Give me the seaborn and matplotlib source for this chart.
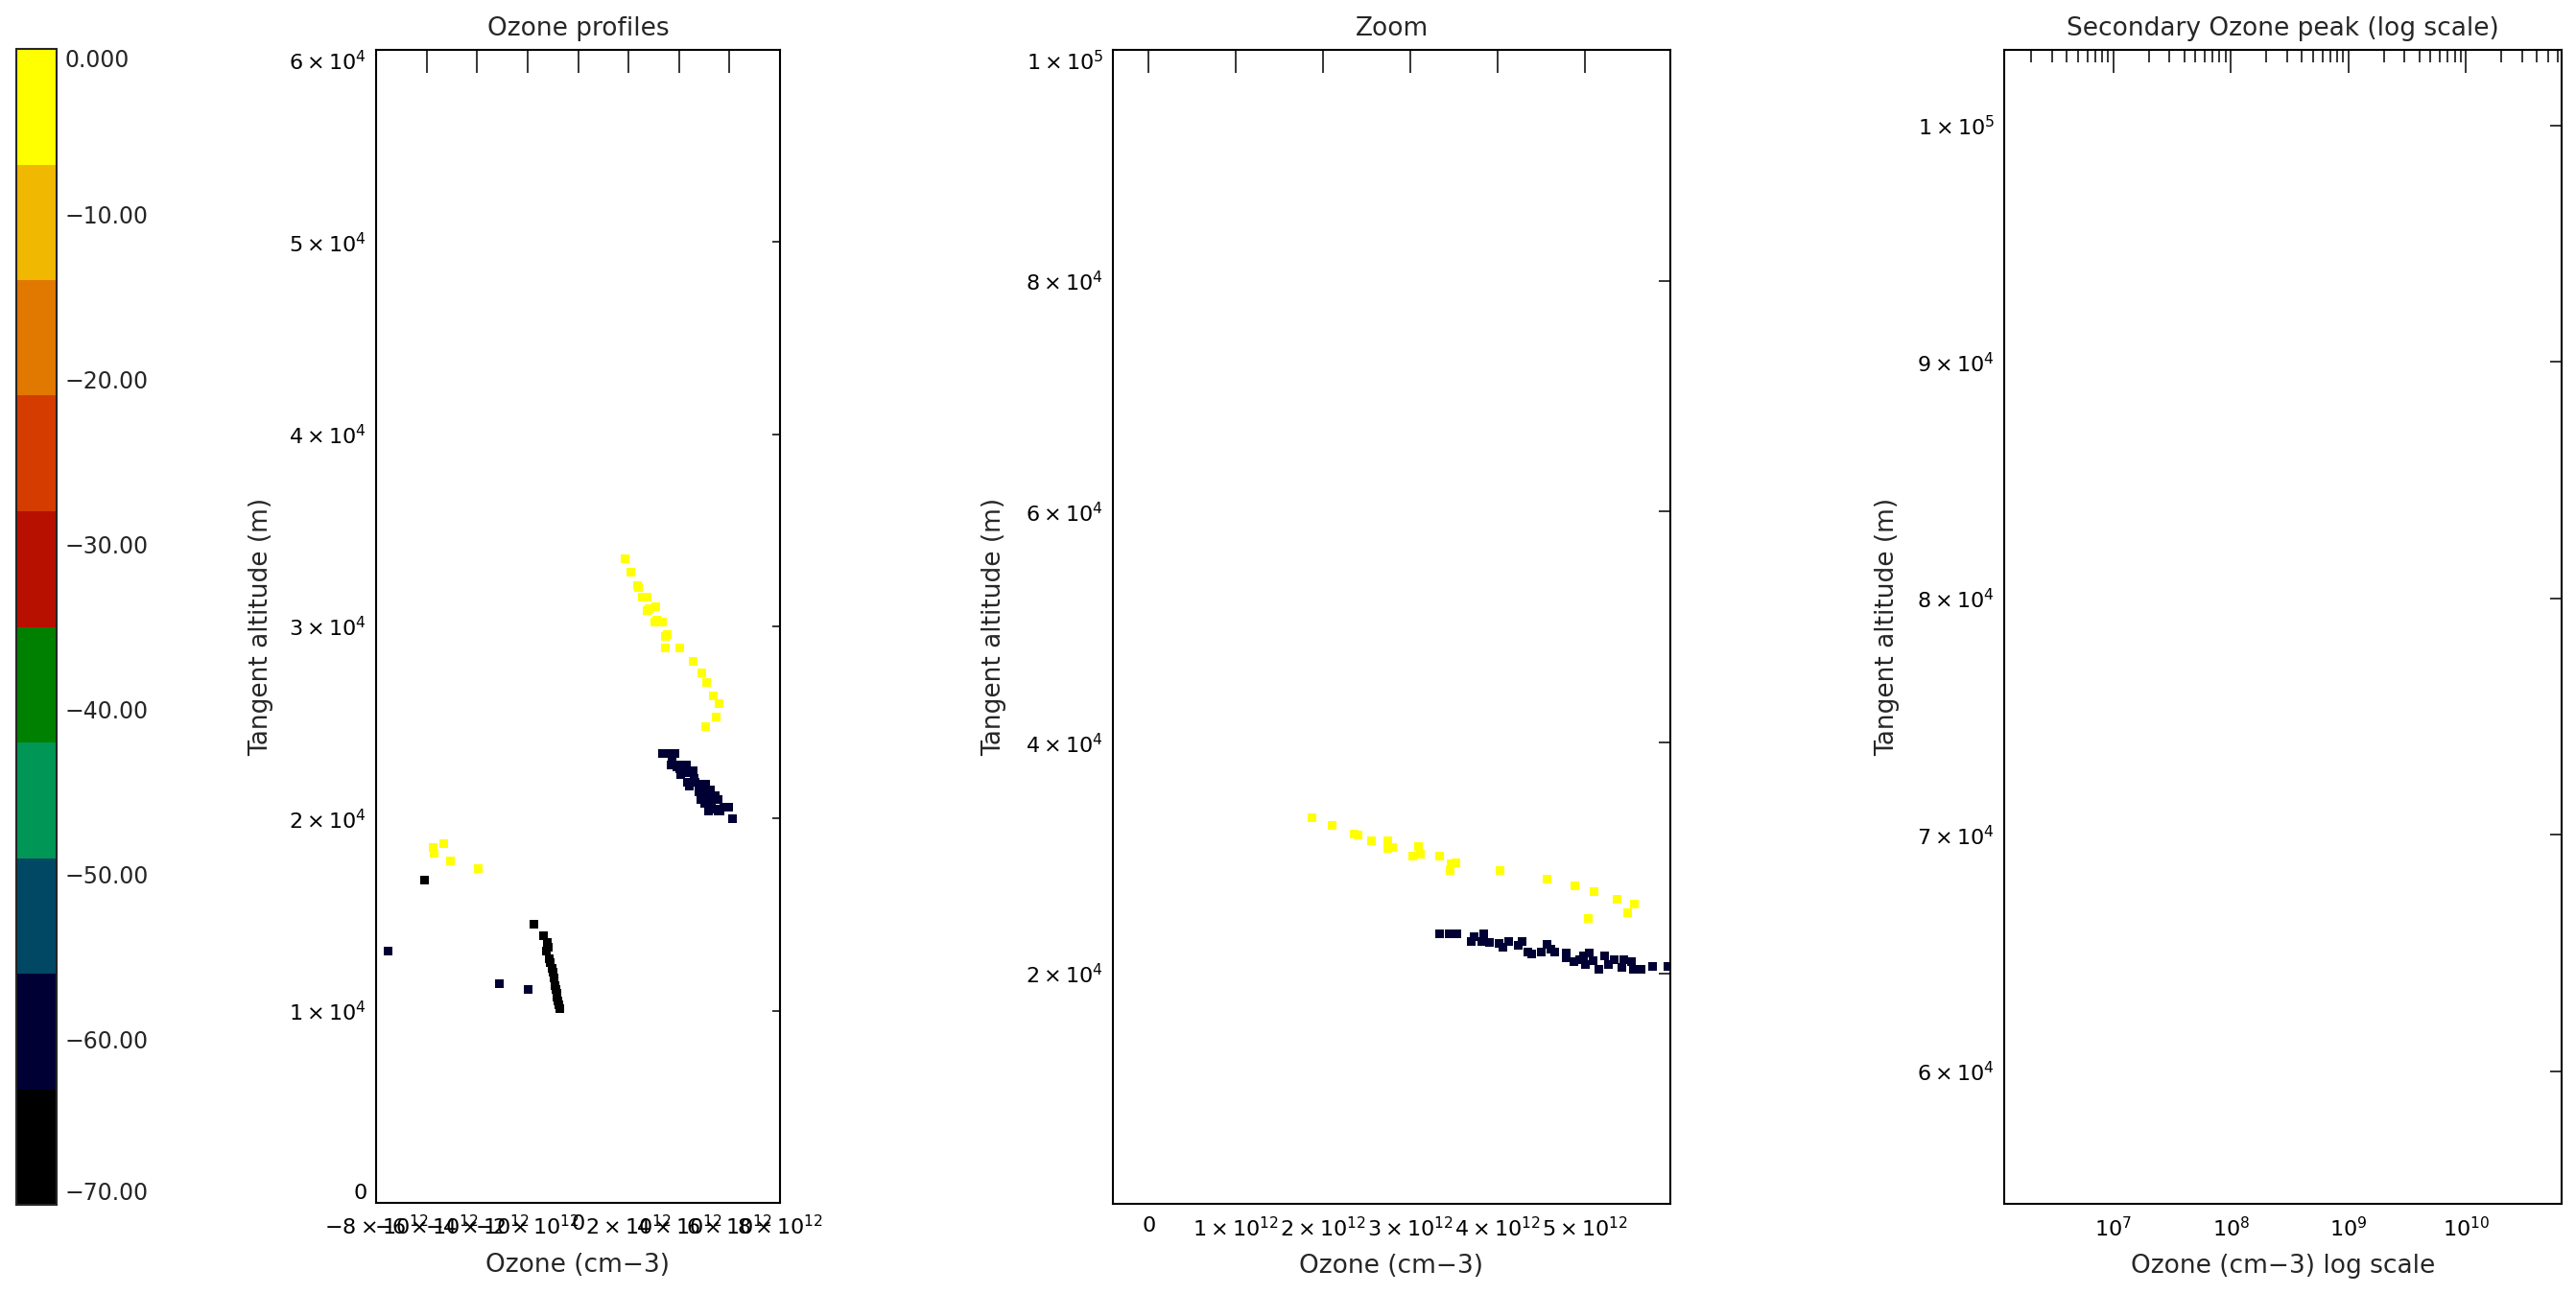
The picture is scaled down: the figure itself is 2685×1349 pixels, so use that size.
"""
Ozone profiles vs tangent altitude, coloured by a discrete scale (0 to -70),
with a zoom panel and an empty log-scale panel for the secondary peak.
"""
import matplotlib
matplotlib.use("Agg")
import matplotlib.pyplot as plt
import matplotlib.ticker as mticker
from matplotlib.colors import ListedColormap, Normalize
from matplotlib.cm import ScalarMappable
import numpy as np
import pandas as pd
import seaborn as sns

# --- colour scale, bottom (-70) to top (0)
cbar_colors = ["#000000", "#000034", "#004864", "#009655", "#008000",
               "#B70F00", "#D43C00", "#E17800", "#F0B800", "#FFFF00"]
cbar_ticks = [-70, -60, -50, -40, -30, -20, -10, 0]
cbar_labels = ["\u221270.00", "\u221260.00", "\u221250.00", "\u221240.00",
               "\u221230.00", "\u221220.00", "\u221210.00", "0.000"]

# --- profiles (ozone in 1e12 cm-3, altitude in m), one colour value each
yel_hi_o3 = [1.87, 2.10, 2.36, 2.40, 2.55, 2.74, 2.74, 2.80, 3.03, 3.09, 3.12, 3.33,
             3.47, 3.52, 3.46, 4.03, 4.57, 4.89, 5.11, 5.04, 5.37, 5.49, 5.57]
yel_hi_alt = [33500, 32800, 32100, 32000, 31500, 31500, 30800, 30900, 30200, 31000,
              30300, 30200, 29500, 29600, 28900, 28900, 28200, 27600, 27100, 24800,
              26400, 25300, 26000]
yel_lo_o3 = [-5.72, -5.69, -5.31, -5.06, -3.96]
yel_lo_alt = [18500, 18200, 18700, 17800, 17400]

navy_hi_o3 = [3.33, 3.44, 3.53, 3.73, 3.84, 3.82, 3.91, 4.02, 4.13, 4.28, 4.35, 4.39,
              4.57, 4.65, 4.79, 4.87, 4.98, 5.05, 5.09, 5.16, 5.23, 5.34, 5.42, 5.53,
              5.64, 5.78, 5.95, 5.45, 4.79, 4.94, 4.61, 5.27, 5.56, 5.01, 3.70, 4.06,
              4.24, 4.50, 6.10]
navy_hi_alt = [23400, 23400, 23400, 23200, 23400, 22800, 22700, 22600, 22800, 22800,
               21900, 21700, 22500, 21900, 21800, 21000, 21500, 21800, 21100, 20400,
               21500, 21200, 20500, 21000, 20400, 20600, 20600, 21200, 21400, 21200,
               22100, 20800, 20400, 20800, 22800, 22300, 22400, 21900, 20000]
navy_lo_o3 = [-7.54, -3.13, -1.99]
navy_lo_alt = [13100, 11400, 11100]

black_o3 = [-6.09, -1.74, -1.38, -1.23, -1.26, -1.17, -1.13, -1.09, -1.04, -0.99,
            -0.94, -0.88, -0.91, -0.85, -0.83, -0.79, -0.73, -0.76]
black_alt = [16800, 14500, 13900, 13550, 13100, 13300, 12700, 12500, 12200, 12000,
             11700, 11100, 11300, 10900, 10700, 10500, 10100, 10300]

yel_val, navy_val, black_val = -3, -60, -67

W, H = 2685, 1349
cmap = ListedColormap(cbar_colors)
norm = Normalize(-70, 0)

df = pd.concat([
    pd.DataFrame({"o3": yel_hi_o3, "alt": yel_hi_alt, "val": yel_val}),
    pd.DataFrame({"o3": yel_lo_o3, "alt": yel_lo_alt, "val": yel_val}),
    pd.DataFrame({"o3": navy_hi_o3, "alt": navy_hi_alt, "val": navy_val}),
    pd.DataFrame({"o3": navy_lo_o3, "alt": navy_lo_alt, "val": navy_val}),
    pd.DataFrame({"o3": black_o3, "alt": black_alt, "val": black_val}),
], ignore_index=True)
df["o3"] = df["o3"] * 1e12
palette = {v: cmap(norm(v)) for v in df["val"].unique()}

sns.set_theme(style="white")
plt.rcParams["font.family"] = ["DejaVu Sans"]
plt.rcParams["mathtext.fontset"] = "dejavusans"
FS_TICK = 16      # tick labels
FS_LAB = 19       # titles / axis labels


def idl_fmt(v, pos):
    if v == 0:
        return "0"
    e = int(np.floor(np.log10(abs(v)) + 1e-9))
    m = v / 10 ** e
    return rf"${m:g}\times10^{{{e}}}$"


def px_axes(fig, left, right, top, bottom):
    return fig.add_axes([left / W, (H - bottom) / H, (right - left) / W, (bottom - top) / H])


def idl_style(ax, ylen):
    for s in ax.spines.values():
        s.set_linewidth(1.5)
        s.set_color("black")
    ax.tick_params(axis="both", which="both", direction="in", top=True, right=True,
                   width=1.1, color="black", labelsize=FS_TICK, labelcolor="black")
    ax.tick_params(axis="x", which="major", length=17, pad=9)
    ax.tick_params(axis="x", which="minor", length=9)
    ax.tick_params(axis="y", which="major", length=ylen, pad=7)
    ax.set_facecolor("white")


def clamp_edge_labels(ax, lo, hi):
    for t, lab in zip(ax.get_yticks(), ax.get_yticklabels()):
        if np.isclose(t, hi):
            lab.set_va("top")
        elif np.isclose(t, lo):
            lab.set_va("bottom")


def labels(ax, title, xlabel, ylab_x):
    ax.set_title(title, fontsize=FS_LAB, pad=11)
    ax.set_xlabel(xlabel, fontsize=FS_LAB, labelpad=10)
    ax.set_ylabel("Tangent altitude (m)", fontsize=FS_LAB)
    ax.yaxis.set_label_coords(ylab_x, 0.5)


fig = plt.figure(figsize=(W / 100, H / 100), dpi=100)

# --- colour bar
cax = px_axes(fig, 17, 59, 51, 1256)
cb = fig.colorbar(ScalarMappable(norm=norm, cmap=cmap), cax=cax)
cb.outline.set_linewidth(1.5)
cb.set_ticks(cbar_ticks, labels=cbar_labels)
cax.yaxis.set_minor_locator(mticker.MultipleLocator(5))
cax.tick_params(which="both", direction="in", left=True, right=True, length=5,
                width=1.1, labelsize=17, pad=6)
clamp_edge_labels(cax, -70, 0)

# --- panel 1: full profiles
ax1 = px_axes(fig, 392, 813, 52, 1254)
sns.scatterplot(data=df, x="o3", y="alt", hue="val", palette=palette, marker="s",
                s=42, linewidth=0, legend=False, ax=ax1)
ax1.set_xlim(-8e12, 8e12)
ax1.set_ylim(0, 6e4)
ax1.set_xticks(np.arange(-8e12, 8.1e12, 2e12))
ax1.set_yticks(np.arange(0, 6.1e4, 1e4))
ax1.xaxis.set_major_formatter(mticker.FuncFormatter(idl_fmt))
ax1.yaxis.set_major_formatter(mticker.FuncFormatter(idl_fmt))
idl_style(ax1, 6)
clamp_edge_labels(ax1, 0, 6e4)
labels(ax1, "Ozone profiles", "Ozone (cm\u22123)", -0.255)

# --- panel 2: zoom
ax2 = px_axes(fig, 1160, 1741, 52, 1255)
sns.scatterplot(data=df, x="o3", y="alt", hue="val", palette=palette, marker="s",
                s=42, linewidth=0, legend=False, ax=ax2)
ax2.set_xlim(-0.41e12, 5.98e12)
ax2.set_ylim(50, 1e5)
ax2.set_xticks(np.arange(0, 5.1e12, 1e12))
ax2.set_yticks(np.arange(2e4, 1.01e5, 2e4))
ax2.xaxis.set_major_formatter(mticker.FuncFormatter(idl_fmt))
ax2.yaxis.set_major_formatter(mticker.FuncFormatter(idl_fmt))
idl_style(ax2, 8.4)
clamp_edge_labels(ax2, 50, 1e5)
labels(ax2, "Zoom", "Ozone (cm\u22123)", -0.19)

# --- panel 3: secondary peak, log scale (no data in range)
ax3 = px_axes(fig, 2089, 2670, 52, 1255)
ax3.set_xscale("log")
ax3.set_xlim(1.18e6, 6.5e10)
ax3.set_ylim(54400, 103200)
ax3.xaxis.set_major_locator(mticker.LogLocator(base=10))
ax3.xaxis.set_minor_locator(mticker.LogLocator(base=10, subs=np.arange(2, 10)))
ax3.xaxis.set_minor_formatter(mticker.NullFormatter())
ax3.set_yticks(np.arange(6e4, 1.01e5, 1e4))
ax3.yaxis.set_major_formatter(mticker.FuncFormatter(idl_fmt))
idl_style(ax3, 8.4)
labels(ax3, "Secondary Ozone peak (log scale)", "Ozone (cm\u22123) log scale", -0.188)

fig.savefig("out.png", dpi=100, facecolor="white")
plt.close(fig)
